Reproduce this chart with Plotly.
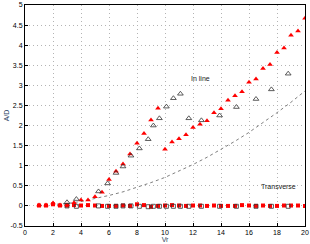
import plotly.graph_objects as go

# In-line, filled red triangles
x_red = [1, 1.5, 2, 2.5, 3, 3.5, 4, 4.5, 5, 5.5, 6, 6.5, 7, 7.5, 8, 8.5, 9, 9.5,
         10, 10.5, 11, 11.5, 12, 12.5, 13, 13.5, 14, 14.5, 15, 15.5, 16, 16.5,
         17, 17.5, 18, 18.5, 19, 19.5, 20]
inline_red = [0.02, 0.02, 0.07, 0.02, 0.03, 0.08, 0.15, 0.15, 0.23, 0.34, 0.66, 0.86,
              1.04, 1.29, 1.56, 1.80, 2.14, 2.43, 1.41, 1.59, 1.67, 1.77, 1.95, 2.03,
              2.12, 2.32, 2.42, 2.63, 2.74, 2.84, 3.08, 3.16, 3.42, 3.52, 3.82, 3.93,
              4.25, 4.35, 4.67]
transverse_red = [0.01, 0.01, 0.04, 0.01, 0.01, 0.02, 0.01, 0.02, 0.01, 0.0, 0.0, 0.0,
                  0.01, 0.0, 0.04, 0.02, -0.02, 0.0, 0.01, 0.02, 0.01, 0.0, 0.01, 0.01,
                  0.0, 0.01, 0.0, 0.0, 0.0, 0.02, 0.01, 0.0, 0.01, 0.0, 0.0, 0.01,
                  0.01, 0.01, 0.0]

# In-line, open black triangles
x_blk = [3.0, 3.67, 5.25, 5.9, 6.5, 7.0, 7.57, 8.17, 8.8, 9.17, 9.6, 10.1, 10.6,
         11.1, 11.7, 12.6, 13.9, 15.1, 16.5, 17.6, 18.8]
inline_blk = [0.09, 0.17, 0.36, 0.56, 0.82, 0.98, 1.25, 1.43, 1.66, 2.0, 2.18, 2.47,
              2.68, 2.79, 2.18, 2.13, 2.25, 2.46, 2.66, 2.9, 3.29]
transverse_blk = [0.0, -0.01, 0.0, -0.01, -0.01, 0.0, 0.0, -0.01, -0.02, -0.01, -0.01,
                  -0.01, -0.01, -0.01, -0.01, -0.01, -0.01, -0.01, -0.01, -0.01, -0.01]

# Dashed reference curve
x_curve = list(range(1, 21))
y_curve = [0.01, 0.03, 0.06, 0.11, 0.18, 0.26, 0.35, 0.46, 0.58, 0.71, 0.86, 1.03,
           1.21, 1.40, 1.61, 1.83, 2.07, 2.32, 2.58, 2.86]

x_ticks = [0, 2, 4, 6, 8, 10, 12, 14, 16, 18, 20]
y_ticks = [-0.5, 0, 0.5, 1, 1.5, 2, 2.5, 3, 3.5, 4, 4.5, 5]
y_tick_text = ["-0.5", "0", "0.5", "1", "1.5", "2", "2.5", "3", "3.5", "4", "4.5", "5"]

fig = go.Figure()
fig.add_trace(go.Scatter(x=x_curve, y=y_curve, mode="lines",
                         line=dict(color="#808080", width=1, dash="3px,3px")))
fig.add_trace(go.Scatter(x=x_red, y=transverse_red, mode="markers",
                         marker=dict(symbol="square", size=4, color="#ff0000")))
fig.add_trace(go.Scatter(x=x_blk, y=transverse_blk, mode="markers",
                         marker=dict(symbol="square-open", size=4, color="#333333",
                                     line=dict(width=0.8))))
fig.add_trace(go.Scatter(x=x_red, y=inline_red, mode="markers",
                         marker=dict(symbol="triangle-up", size=5, color="#ff0000")))
fig.add_trace(go.Scatter(x=x_blk, y=inline_blk, mode="markers",
                         marker=dict(symbol="triangle-up-open", size=5, color="#333333",
                                     line=dict(width=0.8))))

fig.add_annotation(x=12.55, y=3.18, text="In line", showarrow=False,
                   font=dict(size=7, color="#222222"))
fig.add_annotation(x=18.1, y=0.48, text="Transverse", showarrow=False,
                   font=dict(size=7, color="#222222"))

axis_common = dict(showgrid=True, gridcolor="#b4b4b4", griddash="1px,3px", gridwidth=1,
                   zeroline=False, showline=True, linecolor="black", linewidth=1,
                   mirror=True, ticks="inside", ticklen=3, tickcolor="black",
                   tickfont=dict(size=7, color="black"), automargin=False)

fig.update_xaxes(range=[0, 20], tickvals=x_ticks, ticktext=[str(t) for t in x_ticks],
                 title=dict(text="Vr", font=dict(size=7), standoff=0), **axis_common)
fig.update_yaxes(range=[-0.5, 5], tickvals=y_ticks, ticktext=y_tick_text,
                 title=dict(text="A/D", font=dict(size=7), standoff=0), **axis_common)

fig.update_layout(width=310, height=244, showlegend=False,
                  margin=dict(l=25, r=5, t=5, b=18, autoexpand=False),
                  paper_bgcolor="white", plot_bgcolor="white",
                  font=dict(family="Liberation Sans, Arial, sans-serif", size=7))

fig.write_html("out.html", config={"displayModeBar": False},
               post_script="document.documentElement.style.margin='0';"
                           "document.body.style.margin='0';"
                           "document.body.style.padding='0';"
                           "document.body.style.overflow='hidden';")
